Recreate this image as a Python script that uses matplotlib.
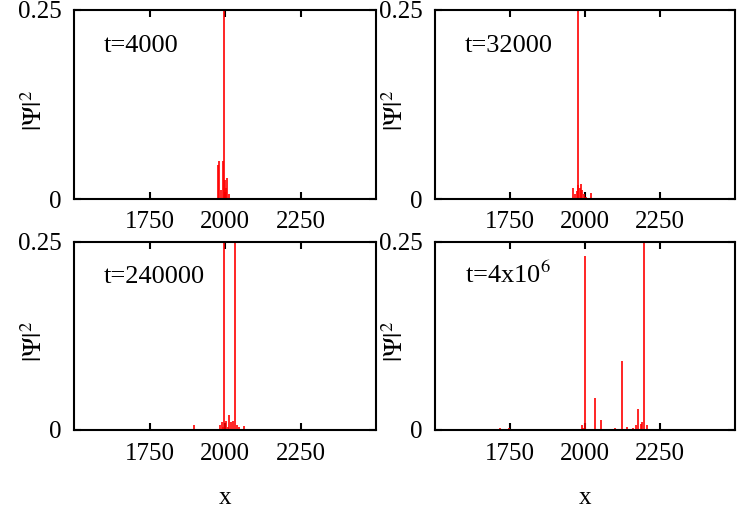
#!/usr/bin/python
# -*- coding:utf-8 -*-

import matplotlib
matplotlib.use("Agg")
import matplotlib.pyplot as plt

plt.rcParams['font.family'] = ['Liberation Serif', 'DejaVu Serif']
plt.rcParams['mathtext.fontset'] = 'stix'

# spike positions (x) and heights (|Psi|^2)
x_t1 = [1976, 1981, 1986, 1992, 1996, 1999, 2003, 2007, 2012]
y_t1 = [0.045, 0.050, 0.012, 0.05, 0.30, 0.025, 0.015, 0.028, 0.006]

x_t2 = [1960, 1968, 1972, 1976, 1978, 1982, 1986, 1990, 1995, 2004, 2020]
y_t2 = [0.015, 0.006, 0.010, 0.018, 0.30, 0.014, 0.020, 0.012, 0.007, 0.003, 0.008]

x_t3 = [1896, 1985, 1990, 1994, 1998, 2004, 2010, 2014, 2020, 2026, 2033, 2040, 2046, 2062]
y_t3 = [0.006, 0.006, 0.010, 0.004, 0.30, 0.012, 0.004, 0.020, 0.010, 0.012, 0.30, 0.006, 0.004, 0.005]

x_t4 = [1500, 1718, 1746, 1880, 1990, 1994, 2000, 2033, 2054, 2100, 2122, 2140, 2160, 2170, 2177,
        2185, 2190, 2198, 2205, 2370]
y_t4 = [0.004, 0.002, 0.002, 0.001, 0.006, 0.003, 0.231, 0.043, 0.013, 0.002, 0.092, 0.004, 0.003,
        0.006, 0.028, 0.008, 0.010, 0.30, 0.006, 0.001]

panels = [(x_t1, y_t1, "t=4000"),
          (x_t2, y_t2, "t=32000"),
          (x_t3, y_t3, "t=240000"),
          (x_t4, y_t4, r"t=4x10$^6$")]
xticks = [1750, 2000, 2250]
yticks = [0, 0.25]


def main():
    fig = plt.figure(figsize=(7.5, 5.25), dpi=100)
    W, H = 750.0, 525.0
    boxes = [(74, 10, 376, 199), (435, 10, 735, 199),
             (74, 242, 376, 430), (435, 242, 735, 430)]
    for i, (xs, ys, label) in enumerate(panels):
        l, t, r, b = boxes[i]
        ax = fig.add_axes([l / W, 1 - b / H, (r - l) / W, (b - t) / H])
        ax.vlines(xs, 0, ys, colors='red', linewidth=1.2)
        ax.set_xlim(1500, 2500)
        ax.set_ylim(0, 0.25)
        ax.set_xticks(xticks)
        ax.set_yticks(yticks)
        ax.set_yticklabels(["0", "0.25"])
        ax.tick_params(direction='in', top=True, right=True, labelsize=18,
                       length=5, width=1.5, pad=9)
        for s in ax.spines.values():
            s.set_linewidth(1.5)
        ax.set_ylabel(r"$|\Psi|^2$", fontsize=19)
        ax.yaxis.set_label_coords(-0.09, 0.47)
        ax.text(0.1, 0.78, label, transform=ax.transAxes, fontsize=19)
        if i >= 2:
            ax.set_xlabel("x", fontsize=18, labelpad=16)
    fig.savefig("out.png", dpi=100)


if __name__ == '__main__':
    main()
